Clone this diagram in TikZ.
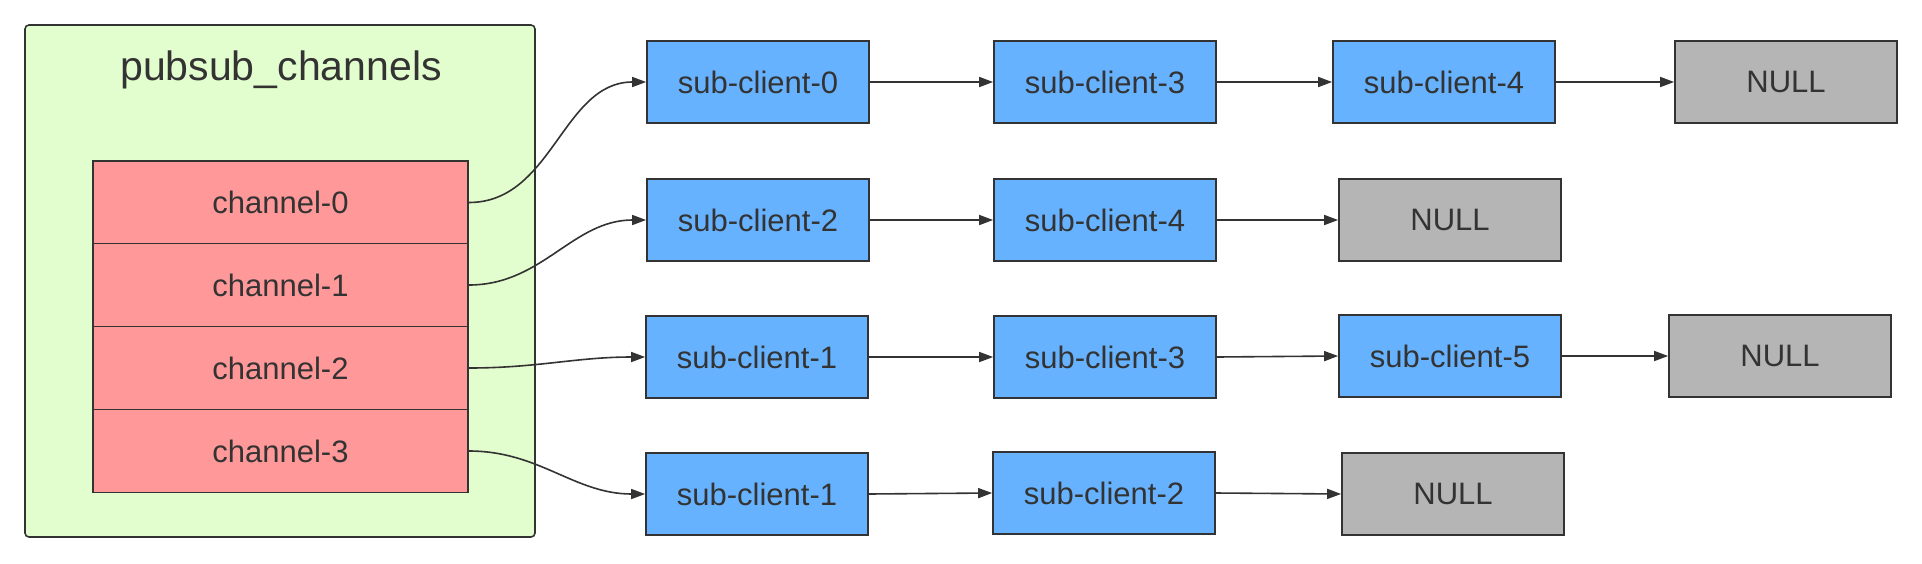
\documentclass[tikz,border=0pt]{standalone}
\usepackage{fontspec}
\setmainfont{Liberation Sans}
\usetikzlibrary{arrows.meta}
\definecolor{ink}{HTML}{333333}
\definecolor{frameg}{HTML}{E3FECE}
\definecolor{chred}{HTML}{FF9999}
\definecolor{clblue}{HTML}{66B2FF}
\definecolor{nullgray}{HTML}{B5B5B5}
\tikzset{
  base/.style={draw=ink, line width=1.7pt, inner sep=0pt, text=ink, font=\fontsize{31}{36}\selectfont},
  chan/.style={base, fill=chred, minimum width=375pt, minimum height=83pt},
  client/.style={base, fill=clblue, minimum width=222pt, minimum height=82pt},
  nullbox/.style={base, fill=nullgray, minimum width=222pt, minimum height=82pt},
  arr/.style={draw=ink, line width=1.6pt, -{Triangle[length=14pt,width=10pt]}},
}
\begin{document}
\begin{tikzpicture}[x=1pt,y=-1pt]
\useasboundingbox (0,0) rectangle (1922,563);
\node[draw=ink, line width=1.6pt, rounded corners=4pt, fill=frameg, minimum width=510pt, minimum height=512pt] (frame) at (280,281) {};
\node[anchor=base, text=ink, font=\fontsize{41}{48}\selectfont, inner sep=0pt] (title) at (281,80) {pubsub\_channels};
\node[chan] (c0) at (280.5,202.5) {channel-0};
\node[chan] (c1) at (280.5,285) {channel-1};
\node[chan] (c2) at (280.5,368) {channel-2};
\node[chan] (c3) at (280.5,451) {channel-3};
% row 1
\node[client] (a1) at (758,82) {sub-client-0};
\node[client] (a2) at (1105,82) {sub-client-3};
\node[client] (a3) at (1444,82) {sub-client-4};
\node[nullbox] (a4) at (1786,82) {NULL};
% row 2
\node[client] (b1) at (758,220) {sub-client-2};
\node[client] (b2) at (1105,220) {sub-client-4};
\node[nullbox] (b3) at (1450,220) {NULL};
% row 3
\node[client] (r1) at (757,357) {sub-client-1};
\node[client] (r2) at (1105,357) {sub-client-3};
\node[client] (r3) at (1450,356) {sub-client-5};
\node[nullbox] (r4) at (1780,356) {NULL};
% row 4
\node[client] (d1) at (757,494) {sub-client-1};
\node[client] (d2) at (1104,493) {sub-client-2};
\node[nullbox] (d3) at (1453,494) {NULL};
% curved links
\draw[arr] (c0.east) to[out=0,in=180] (a1.west);
\draw[arr] (c1.east) to[out=0,in=180] (b1.west);
\draw[arr] (c2.east) to[out=0,in=180] (r1.west);
\draw[arr] (c3.east) to[out=0,in=180] (d1.west);
% straight links
\draw[arr] (a1.east) -- (a2.west);
\draw[arr] (a2.east) -- (a3.west);
\draw[arr] (a3.east) -- (a4.west);
\draw[arr] (b1.east) -- (b2.west);
\draw[arr] (b2.east) -- (b3.west);
\draw[arr] (r1.east) -- (r2.west);
\draw[arr] (r2.east) -- (r3.west);
\draw[arr] (r3.east) -- (r4.west);
\draw[arr] (d1.east) -- (d2.west);
\draw[arr] (d2.east) -- (d3.west);
\end{tikzpicture}
\end{document}
